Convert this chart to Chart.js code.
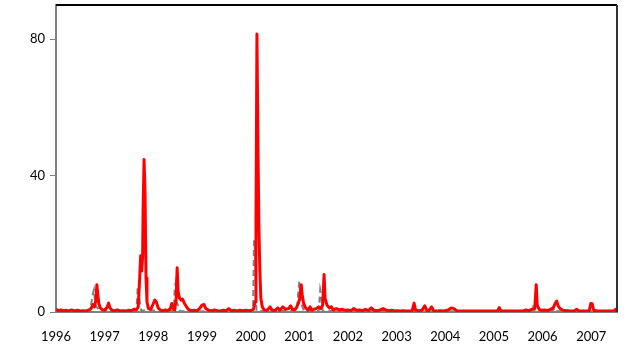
<!DOCTYPE html>
<html>
<head>
<meta charset="utf-8">
<script src="https://cdn.jsdelivr.net/npm/chart.js@4/dist/chart.umd.min.js"></script>
<style>
  html, body { margin: 0; padding: 0; background: #fff; }
  #wrap { width: 626px; height: 351px; position: relative; }
</style>
</head>
<body>
<div id="wrap"><canvas id="chart"></canvas></div>
<script>
// decimal years and values
const redYears = [
  1996.00,1996.05,1996.10,1996.15,1996.20,1996.26,1996.32,1996.38,1996.44,1996.50,1996.56,1996.62,1996.68,1996.72,1996.76,1996.79,1996.82,1996.84,1996.86,1996.88,1996.91,1996.95,
  1997.00,1997.05,1997.08,1997.11,1997.15,1997.20,1997.26,1997.32,1997.38,1997.44,1997.50,1997.56,1997.60,1997.65,1997.69,1997.72,1997.74,1997.76,1997.78,1997.79,1997.81,1997.83,1997.85,1997.87,1997.90,1997.95,
  1998.00,1998.03,1998.06,1998.10,1998.15,1998.20,1998.25,1998.30,1998.35,1998.38,1998.41,1998.44,1998.47,1998.49,1998.51,1998.54,1998.57,1998.60,1998.64,1998.68,1998.72,1998.78,1998.84,1998.90,1998.95,
  1999.00,1999.04,1999.08,1999.14,1999.20,1999.26,1999.32,1999.38,1999.44,1999.50,1999.55,1999.60,1999.66,1999.72,1999.78,1999.84,1999.90,1999.96,
  2000.02,2000.06,2000.09,2000.11,2000.13,2000.15,2000.17,2000.19,2000.21,2000.24,2000.28,2000.34,2000.40,2000.44,2000.50,2000.56,2000.60,2000.66,2000.72,2000.78,2000.82,2000.86,2000.90,2000.94,2000.98,
  2001.01,2001.04,2001.06,2001.09,2001.13,2001.18,2001.22,2001.26,2001.30,2001.35,2001.40,2001.44,2001.48,2001.51,2001.53,2001.57,2001.62,2001.66,2001.70,2001.76,2001.82,2001.88,2001.94,
  2002.00,2002.06,2002.12,2002.18,2002.24,2002.30,2002.36,2002.42,2002.48,2002.54,2002.60,2002.66,2002.72,2002.78,2002.84,2002.90,2002.96,
  2003.02,2003.08,2003.14,2003.20,2003.26,2003.32,2003.36,2003.39,2003.46,2003.52,2003.58,2003.62,2003.66,2003.72,2003.76,2003.82,2003.90,2003.98,
  2004.06,2004.12,2004.18,2004.24,2004.32,2004.40,2004.50,2004.60,2004.70,2004.80,2004.90,
  2005.00,2005.08,2005.11,2005.14,2005.22,2005.32,2005.42,2005.52,2005.60,2005.66,2005.72,2005.78,2005.84,2005.87,2005.89,2005.93,2005.98,
  2006.04,2006.10,2006.16,2006.22,2006.26,2006.29,2006.32,2006.36,2006.42,2006.50,2006.58,2006.66,2006.70,2006.74,2006.82,2006.90,2006.96,2006.99,
  2007.02,2007.05,2007.12,2007.22,2007.32,2007.40,2007.48,2007.50,2007.53
];
const redValues = [
  0.8,0.4,0.6,0.3,0.5,0.3,0.6,0.3,0.5,0.3,0.4,0.3,0.6,1.0,2.2,1.5,3.5,8.0,5.0,2.5,1.2,0.7,
  0.5,1.4,2.6,1.2,0.5,0.4,0.6,0.3,0.4,0.3,0.5,0.4,0.8,0.6,1.5,10,16.5,12,16,30,44.7,35,10,3,1.0,0.8,
  2.5,3.5,3.0,1.2,0.5,0.4,0.6,0.4,1.0,2.5,1.0,0.6,4,13,6,4,3.5,3.8,2.5,1.6,0.8,0.4,0.5,0.4,1.0,
  2.0,2.2,1.0,0.5,0.4,0.6,0.4,0.3,0.5,0.4,1.0,0.4,0.5,0.3,0.5,0.4,0.5,0.4,
  0.5,0.8,3,25,81.5,50,25,12,4,1.5,0.6,0.5,1.5,0.6,0.4,1.2,0.5,1.5,0.8,1.0,1.8,0.8,0.6,1.2,2.5,
  4,8,5,2.5,1.2,0.5,1.5,0.5,0.8,1.0,1.5,1.0,2.0,11,4,2,1.2,1.5,0.6,1.0,0.6,0.8,0.5,
  0.6,0.4,1.0,0.5,0.6,0.4,0.8,0.4,1.2,0.5,0.4,0.6,1.0,0.6,0.4,0.5,0.3,
  0.4,0.3,0.4,0.3,0.3,0.4,2.6,0.5,0.4,0.5,1.8,0.5,0.4,1.5,0.4,0.3,0.4,0.3,
  0.6,1.2,1.0,0.3,0.3,0.3,0.3,0.3,0.3,0.3,0.3,
  0.3,0.4,1.3,0.4,0.3,0.3,0.3,0.3,0.3,0.6,0.4,0.8,1.0,8,2,0.8,0.5,
  0.6,0.4,0.8,1.2,2.5,3.2,1.8,1.0,0.5,0.4,0.3,0.4,0.8,0.4,0.3,0.3,0.4,2.5,
  2.4,0.5,0.3,0.3,0.3,0.3,0.4,0.8,0.4
];
const grayYears = [
  1996.00,1996.70,1996.76,1996.78,1996.81,1996.90,1997.60,1997.66,1997.68,1997.70,1997.75,
  1998.42,1998.44,1998.46,1998.48,1998.55,2000.05,2000.07,2000.09,2000.12,
  2000.95,2000.98,2001.00,2001.03,2001.10,2001.40,2001.43,2001.45,2001.48,
  2005.78,2005.80,2005.83,2006.20,2006.26,2006.30,2007.53
];
const grayValues = [
  0.2,0.3,5.5,6.5,2,0.2,0.3,2,7.5,5,0.5,
  0.3,7,8.5,3,0.2,0.2,21,18,0.3,
  0.3,6,9,3,0.2,0.3,6.5,5,0.3,
  0.2,2,0.5,0.3,1.2,0.2,0.2
];
const yearTicks = [1996,1997,1998,1999,2000,2001,2002,2003,2004,2005,2006,2007];
const valueTicks = [0, 40, 80];

const toPts = (xs, ys) => xs.map((x, i) => ({ x: x, y: ys[i] }));

const frame = {
  id: 'frame',
  afterDraw(chart) {
    const a = chart.chartArea, c = chart.ctx;
    c.save();
    c.strokeStyle = '#000';
    c.lineWidth = 2;
    c.beginPath();
    c.moveTo(a.left, a.top);
    c.lineTo(a.right, a.top);
    c.stroke();
    c.strokeStyle = '#333';
    c.beginPath();
    c.moveTo(a.right, a.top);
    c.lineTo(a.right, a.bottom);
    c.stroke();
    c.restore();
  }
};

new Chart(document.getElementById('chart'), {
  type: 'line',
  data: {
    datasets: [{
      label: 'red',
      data: toPts(redYears, redValues),
      borderColor: '#ff0000',
      borderWidth: 3,
      borderJoinStyle: 'round',
      pointRadius: 0,
      tension: 0,
      order: 0
    }, {
      label: 'gray',
      data: toPts(grayYears, grayValues),
      borderColor: '#808080',
      borderWidth: 2,
      borderDash: [6, 4],
      pointRadius: 0,
      tension: 0,
      order: 1
    }]
  },
  options: {
    responsive: true,
    maintainAspectRatio: false,
    animation: false,
    layout: { padding: { left: 0, top: 5, right: 9, bottom: 0 } },
    plugins: { legend: { display: false }, tooltip: { enabled: false } },
    scales: {
      x: {
        type: 'linear',
        min: 1996,
        max: 2007.53,
        afterBuildTicks: s => { s.ticks = yearTicks.map(v => ({ value: v })); },
        afterFit: s => { s.height = 39; s.paddingLeft = 0; s.paddingRight = 0; },
        grid: { display: false, drawTicks: false },
        border: { display: true, color: '#808080', width: 2 },
        ticks: {
          color: '#000',
          font: { family: 'Lato', size: 13 },
          padding: 17,
          maxRotation: 0,
          autoSkip: false,
          callback: v => String(v)
        }
      },
      y: {
        min: 0,
        max: 90,
        afterBuildTicks: s => { s.ticks = valueTicks.map(v => ({ value: v })); },
        afterFit: s => { s.width = 56; s.paddingTop = 0; s.paddingBottom = 0; },
        grid: { display: true, drawOnChartArea: false, drawTicks: true, tickLength: 6, color: '#808080', lineWidth: 1 },
        border: { display: true, color: '#808080', width: 2 },
        ticks: {
          color: '#000',
          font: { family: 'Lato', size: 13 },
          padding: 5
        }
      }
    }
  },
  plugins: [frame]
});
</script>
</body>
</html>
